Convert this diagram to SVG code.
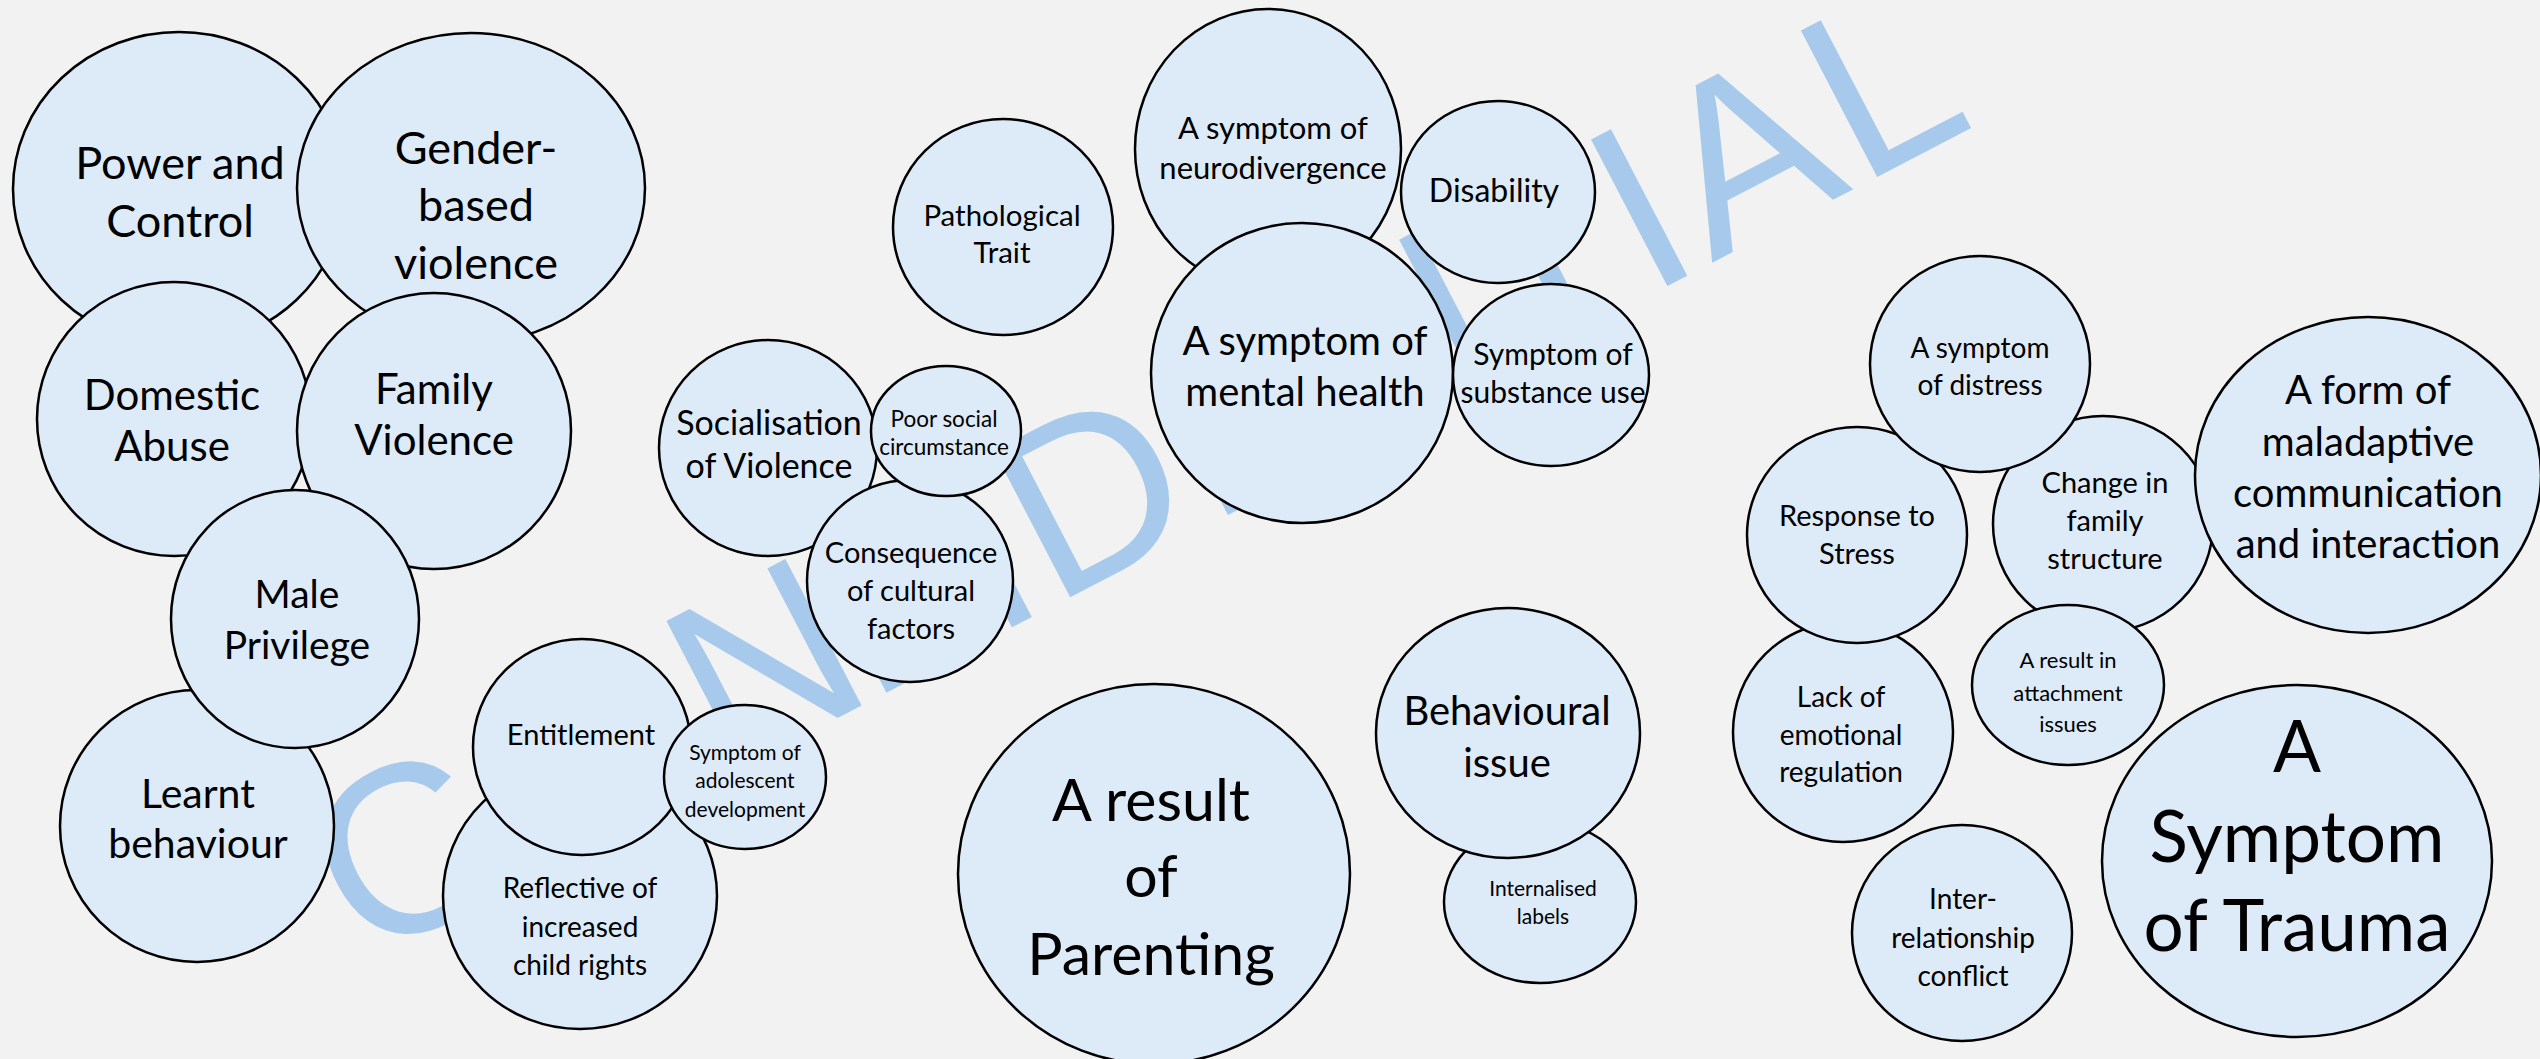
<svg xmlns="http://www.w3.org/2000/svg" width="2540" height="1059" viewBox="0 0 2540 1059">
<style>
.bg{fill:#F2F2F2}
.node ellipse{fill:#DDEAF7;stroke:#000;stroke-width:2.5}
.node text{font-family:Lato,"Liberation Sans",sans-serif;text-anchor:middle;fill:#000}
.wm{font-family:"Liberation Sans",Arial,sans-serif;font-size:240px;fill:#A7CAEC}
</style>
<rect class="bg" x="0" y="0" width="2540" height="1059"/>
<text class="wm" transform="translate(736,771) rotate(-27.5)" x="-418 -225 -12 150 289 357 535 700 878 1028 1100 1267" y="0">CONFIDENTIAL</text>

<g id="power-and-control" class="node"><ellipse cx="179" cy="189" rx="166" ry="157"/><text font-size="45"><tspan x="180" y="179">Power and</tspan><tspan x="180" y="237">Control</tspan></text></g>
<g id="gender-based-violence" class="node"><ellipse cx="471" cy="188" rx="174" ry="155"/><text font-size="45"><tspan x="476" y="164">Gender-</tspan><tspan x="476" y="221">based</tspan><tspan x="476" y="279">violence</tspan></text></g>
<g id="domestic-abuse" class="node"><ellipse cx="174" cy="419" rx="137" ry="137"/><text font-size="42"><tspan x="172" y="410">Domestic</tspan><tspan x="172" y="461">Abuse</tspan></text></g>
<g id="family-violence" class="node"><ellipse cx="434" cy="431" rx="137" ry="138"/><text font-size="42"><tspan x="434" y="404">Family</tspan><tspan x="434" y="455">Violence</tspan></text></g>
<g id="learnt-behaviour" class="node"><ellipse cx="197" cy="826" rx="137" ry="136"/><text font-size="41"><tspan x="198" y="808">Learnt</tspan><tspan x="198" y="858">behaviour</tspan></text></g>
<g id="male-privilege" class="node"><ellipse cx="295" cy="619" rx="124" ry="129"/><text font-size="39"><tspan x="297" y="608">Male</tspan><tspan x="297" y="659">Privilege</tspan></text></g>
<g id="reflective-child-rights" class="node"><ellipse cx="580" cy="896" rx="137" ry="133"/><text font-size="28"><tspan x="580" y="898">Reflective of</tspan><tspan x="580" y="937">increased</tspan><tspan x="580" y="975">child rights</tspan></text></g>
<g id="entitlement" class="node"><ellipse cx="582" cy="747" rx="109" ry="108"/><text font-size="29"><tspan x="581" y="745">Entitlement</tspan></text></g>
<g id="adolescent-development" class="node"><ellipse cx="745" cy="777" rx="81" ry="72"/><text font-size="21"><tspan x="745" y="760">Symptom of</tspan><tspan x="745" y="788">adolescent</tspan><tspan x="745" y="817">development</tspan></text></g>
<g id="socialisation-of-violence" class="node"><ellipse cx="768" cy="448" rx="109" ry="108"/><text font-size="34"><tspan x="769" y="435">Socialisation</tspan><tspan x="769" y="478">of Violence</tspan></text></g>
<g id="consequence-cultural-factors" class="node"><ellipse cx="910" cy="581" rx="103" ry="101"/><text font-size="29"><tspan x="911" y="563">Consequence</tspan><tspan x="911" y="601">of cultural</tspan><tspan x="911" y="639">factors</tspan></text></g>
<g id="poor-social-circumstance" class="node"><ellipse cx="946" cy="431" rx="75" ry="65"/><text font-size="22.5"><tspan x="944" y="427">Poor social</tspan><tspan x="944" y="455">circumstance</tspan></text></g>
<g id="pathological-trait" class="node"><ellipse cx="1003" cy="227" rx="110" ry="108"/><text font-size="29.5"><tspan x="1002" y="226">Pathological</tspan><tspan x="1002" y="263">Trait</tspan></text></g>
<g id="neurodivergence" class="node"><ellipse cx="1268" cy="149" rx="133" ry="140"/><text font-size="31"><tspan x="1273" y="139">A symptom of</tspan><tspan x="1273" y="179">neurodivergence</tspan></text></g>
<g id="mental-health" class="node"><ellipse cx="1302" cy="373" rx="151" ry="150"/><text font-size="40"><tspan x="1305" y="355">A symptom of</tspan><tspan x="1305" y="406">mental health</tspan></text></g>
<g id="disability" class="node"><ellipse cx="1498" cy="192" rx="97" ry="91"/><text font-size="32"><tspan x="1494" y="202">Disability</tspan></text></g>
<g id="substance-use" class="node"><ellipse cx="1551" cy="375" rx="98" ry="91"/><text font-size="30"><tspan x="1553" y="365">Symptom of</tspan><tspan x="1553" y="403">substance use</tspan></text></g>
<g id="result-of-parenting" class="node"><ellipse cx="1154" cy="874" rx="196" ry="190"/><text font-size="59"><tspan x="1151" y="821">A result</tspan><tspan x="1151" y="897">of</tspan><tspan x="1151" y="975">Parenting</tspan></text></g>
<g id="internalised-labels" class="node"><ellipse cx="1540" cy="902" rx="96" ry="81"/><text font-size="21"><tspan x="1543" y="896">Internalised</tspan><tspan x="1543" y="924">labels</tspan></text></g>
<g id="behavioural-issue" class="node"><ellipse cx="1508" cy="733" rx="132" ry="125"/><text font-size="40"><tspan x="1507" y="725">Behavioural</tspan><tspan x="1507" y="777">issue</tspan></text></g>
<g id="lack-emotional-regulation" class="node"><ellipse cx="1843" cy="732" rx="110" ry="110"/><text font-size="28"><tspan x="1841" y="707">Lack of</tspan><tspan x="1841" y="745">emotional</tspan><tspan x="1841" y="782">regulation</tspan></text></g>
<g id="response-to-stress" class="node"><ellipse cx="1857" cy="535" rx="110" ry="108"/><text font-size="29"><tspan x="1857" y="526">Response to</tspan><tspan x="1857" y="564">Stress</tspan></text></g>
<g id="change-family-structure" class="node"><ellipse cx="2103" cy="524" rx="110" ry="108"/><text font-size="29"><tspan x="2105" y="493">Change in</tspan><tspan x="2105" y="531">family</tspan><tspan x="2105" y="569">structure</tspan></text></g>
<g id="symptom-of-distress" class="node"><ellipse cx="1980" cy="364" rx="110" ry="108"/><text font-size="28"><tspan x="1980" y="358">A symptom</tspan><tspan x="1980" y="395">of distress</tspan></text></g>
<g id="attachment-issues" class="node"><ellipse cx="2068" cy="685" rx="96" ry="80"/><text font-size="22"><tspan x="2068" y="668">A result in</tspan><tspan x="2068" y="701">attachment</tspan><tspan x="2068" y="732">issues</tspan></text></g>
<g id="maladaptive-communication" class="node"><ellipse cx="2368" cy="475" rx="173" ry="158"/><text font-size="40"><tspan x="2368" y="404">A form of</tspan><tspan x="2368" y="456">maladaptive</tspan><tspan x="2368" y="507">communication</tspan><tspan x="2368" y="558">and interaction</tspan></text></g>
<g id="inter-relationship-conflict" class="node"><ellipse cx="1962" cy="933" rx="110" ry="108"/><text font-size="28"><tspan x="1963" y="909">Inter-</tspan><tspan x="1963" y="948">relationship</tspan><tspan x="1963" y="986">conflict</tspan></text></g>
<g id="symptom-of-trauma" class="node"><ellipse cx="2297" cy="861" rx="195" ry="176"/><text font-size="71"><tspan x="2297" y="772">A</tspan><tspan x="2297" y="862">Symptom</tspan><tspan x="2297" y="951">of Trauma</tspan></text></g>
</svg>
